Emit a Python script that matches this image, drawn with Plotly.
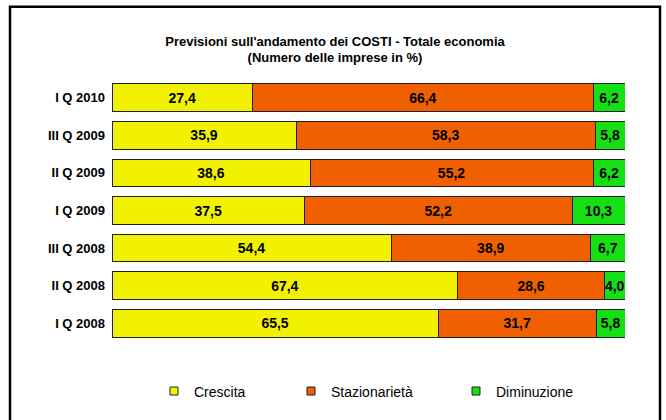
import plotly.graph_objects as go

categories = ["I Q 2008", "II Q 2008", "III Q 2008", "I Q 2009", "II Q 2009", "III Q 2009", "I Q 2010"]
crescita = [65.5, 67.4, 54.4, 37.5, 38.6, 35.9, 27.4]
stazionarieta = [31.7, 28.6, 38.9, 52.2, 55.2, 58.3, 66.4]
diminuzione = [5.8, 4.0, 6.7, 10.3, 6.2, 5.8, 6.2]
series_names = ["Crescita", "Stazionarietà", "Diminuzione"]
colors = ["#F2F200", "#F06000", "#14E014"]
title_line1 = "Previsioni sull'andamento dei COSTI - Totale economia"
title_line2 = "(Numero delle imprese in %)"

FONT = "Liberation Sans, Arial, sans-serif"
W, H = 666, 420
ML, MR, MT, MB = 112, 41, 79, 75

fig = go.Figure()
for name, vals, col in zip(series_names, [crescita, stazionarieta, diminuzione], colors):
    fig.add_trace(go.Bar(
        y=categories, x=vals, orientation="h", name=name,
        marker=dict(color=col, line=dict(color="#202020", width=1)),
        text=[f"{v:.1f}".replace(".", ",") for v in vals],
        textposition="inside", insidetextanchor="middle", textangle=0,
        textfont=dict(family=FONT, size=14, color="black", weight="bold"),
        showlegend=False, hoverinfo="skip", width=0.74,
    ))

# legend entries (one legend per item, to place them like the reference)
legend_x_px = [154, 291, 456]
for i, (name, col) in enumerate(zip(series_names, colors)):
    lid = "legend" if i == 0 else f"legend{i+1}"
    fig.add_trace(go.Scatter(
        x=[None], y=[None], mode="markers", name=name, legend=lid,
        marker=dict(symbol="square", size=8, color=col, line=dict(color="#202020", width=1)),
        showlegend=True,
    ))

pw = W - ML - MR
ph = H - MT - MB
legend_common = dict(orientation="h", yanchor="middle", xanchor="left",
                      font=dict(family=FONT, size=14, color="black"),
                      bgcolor="rgba(0,0,0,0)", itemwidth=30)
layout_legends = {}
for i, xp in enumerate(legend_x_px):
    lid = "legend" if i == 0 else f"legend{i+1}"
    layout_legends[lid] = dict(legend_common, x=(xp - ML) / pw, y=-(395 - (MT + ph)) / ph)

# frame around the chart
fx0, fx1, fy0, fy1 = 10, 660, 6, 440
fig.add_shape(type="rect", xref="paper", yref="paper",
              x0=(fx0 - ML) / pw, x1=(fx1 - ML) / pw,
              y0=1 - (fy1 - MT) / ph, y1=1 - (fy0 - MT) / ph,
              line=dict(color="black", width=2.5), fillcolor="rgba(0,0,0,0)", layer="below")

fig.update_layout(
    width=W, height=H,
    margin=dict(l=ML, r=MR, t=MT, b=MB),
    barmode="stack", barnorm="percent",
    paper_bgcolor="white", plot_bgcolor="white",
    title=dict(text=title_line1 + "<br>" + title_line2,
               x=335 / W, xanchor="center", y=1 - 45.5 / H, yanchor="middle",
               font=dict(family=FONT, size=13, color="black", weight="bold")),
    xaxis=dict(range=[0, 100], visible=False, fixedrange=True),
    yaxis=dict(categoryorder="array", categoryarray=categories, showgrid=False,
               showline=False, zeroline=False, ticks="", ticklabelstandoff=6,
               tickfont=dict(family=FONT, size=13, color="black", weight="bold")),
    uniformtext=dict(minsize=12, mode="show"),
    **layout_legends,
)

fig.write_html("out.html")
